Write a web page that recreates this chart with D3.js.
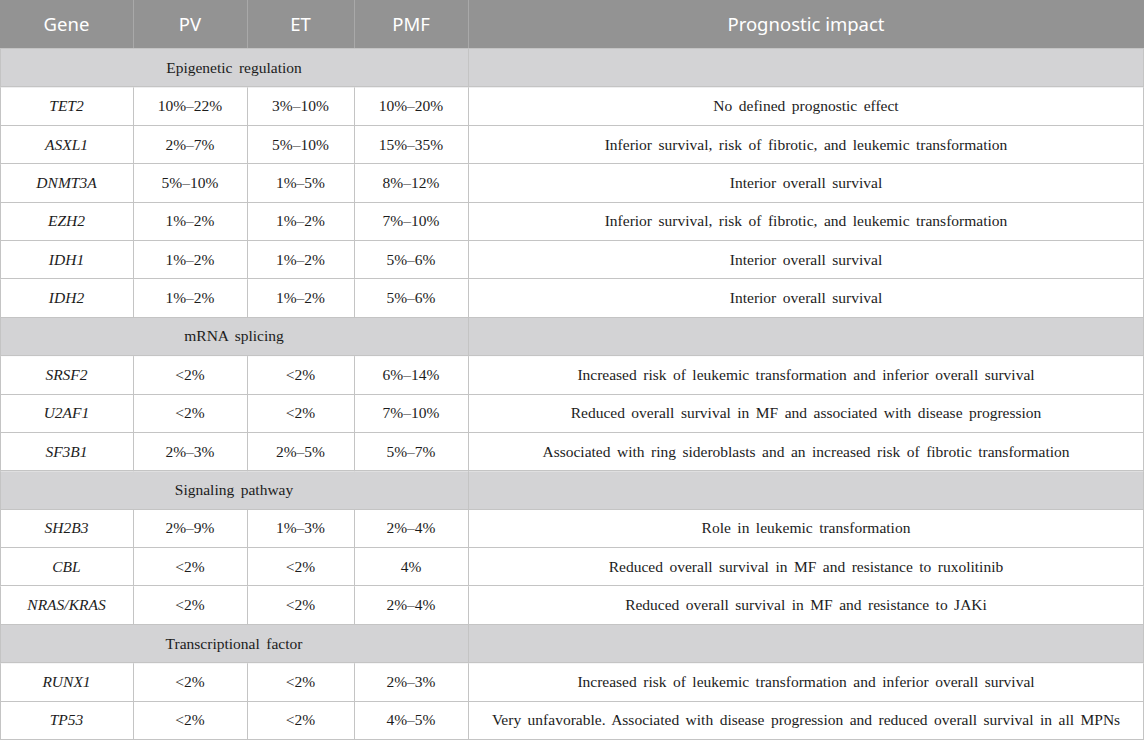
<!DOCTYPE html>
<html>
<head>
<meta charset="utf-8">
<script src="https://cdn.jsdelivr.net/npm/d3@7"></script>
<style>
  body { margin: 0; background: #fff; }
</style>
</head>
<body>
<script>
// table contents
var headers = ["Gene", "PV", "ET", "PMF", "Prognostic impact"];
var groups = ["Epigenetic regulation", "mRNA splicing", "Signaling pathway", "Transcriptional factor"];
var groupSizes = [6, 3, 3, 2];
var genes = ["TET2", "ASXL1", "DNMT3A", "EZH2", "IDH1", "IDH2",
  "SRSF2", "U2AF1", "SF3B1",
  "SH2B3", "CBL", "NRAS/KRAS",
  "RUNX1", "TP53"];
var pv = ["10%–22%", "2%–7%", "5%–10%", "1%–2%", "1%–2%", "1%–2%",
  "<2%", "<2%", "2%–3%",
  "2%–9%", "<2%", "<2%",
  "<2%", "<2%"];
var et = ["3%–10%", "5%–10%", "1%–5%", "1%–2%", "1%–2%", "1%–2%",
  "<2%", "<2%", "2%–5%",
  "1%–3%", "<2%", "<2%",
  "<2%", "<2%"];
var pmf = ["10%–20%", "15%–35%", "8%–12%", "7%–10%", "5%–6%", "5%–6%",
  "6%–14%", "7%–10%", "5%–7%",
  "2%–4%", "4%", "2%–4%",
  "2%–3%", "4%–5%"];
var impact = ["No defined prognostic effect",
  "Inferior survival, risk of fibrotic, and leukemic transformation",
  "Interior overall survival",
  "Inferior survival, risk of fibrotic, and leukemic transformation",
  "Interior overall survival",
  "Interior overall survival",
  "Increased risk of leukemic transformation and inferior overall survival",
  "Reduced overall survival in MF and associated with disease progression",
  "Associated with ring sideroblasts and an increased risk of fibrotic transformation",
  "Role in leukemic transformation",
  "Reduced overall survival in MF and resistance to ruxolitinib",
  "Reduced overall survival in MF and resistance to JAKi",
  "Increased risk of leukemic transformation and inferior overall survival",
  "Very unfavorable. Associated with disease progression and reduced overall survival in all MPNs"];

var W = 1145, H = 741;
var headH = 49, tableBottom = 740;
var colEdges = [0, 133, 247, 354, 468, 1144];

// build row list: group rows interleaved with gene rows
var rows = [];
var gi = 0;
groups.forEach(function (g, k) {
  rows.push({ type: "group", label: g });
  for (var j = 0; j < groupSizes[k]; j++) {
    rows.push({ type: "gene", cells: [genes[gi], pv[gi], et[gi], pmf[gi], impact[gi]] });
    gi++;
  }
});

var y = d3.scaleBand()
  .domain(d3.range(rows.length))
  .range([headH, tableBottom]);

var svg = d3.select("body").append("svg")
  .attr("width", W)
  .attr("height", H);

var serif = "'Liberation Serif', 'Times New Roman', serif";
var sans = "'Noto Sans', 'Open Sans', sans-serif";

// header
svg.append("rect")
  .attr("x", 0).attr("y", 0)
  .attr("width", colEdges[5]).attr("height", headH)
  .attr("fill", "#939393");
for (var c = 1; c < 5; c++) {
  svg.append("line")
    .attr("x1", colEdges[c] + 0.5).attr("x2", colEdges[c] + 0.5)
    .attr("y1", 0).attr("y2", headH)
    .attr("stroke", "#a9a9a9");
}
svg.selectAll("text.head")
  .data(headers)
  .enter().append("text")
  .attr("class", "head")
  .attr("x", function (d, i) { return (colEdges[i] + colEdges[i + 1]) / 2; })
  .attr("y", headH / 2 + 2)
  .attr("text-anchor", "middle")
  .attr("dominant-baseline", "middle")
  .attr("fill", "#fff")
  .attr("font-family", sans)
  .attr("font-size", 18.5)
  .text(function (d) { return d; });

// body rows
var rowG = svg.selectAll("g.row")
  .data(rows)
  .enter().append("g")
  .attr("class", "row")
  .attr("transform", function (d, i) { return "translate(0," + y(i) + ")"; });

rowG.filter(function (d) { return d.type === "group"; })
  .append("rect")
  .attr("x", 0).attr("y", 0)
  .attr("width", colEdges[5]).attr("height", y.bandwidth())
  .attr("fill", "#d3d3d5");

rowG.filter(function (d) { return d.type === "group"; })
  .append("text")
  .attr("x", colEdges[4] / 2)
  .attr("y", y.bandwidth() / 2 + 1)
  .attr("text-anchor", "middle")
  .attr("dominant-baseline", "middle")
  .attr("font-family", serif)
  .attr("font-size", 15.5)
  .attr("word-spacing", 2.6)
  .attr("fill", "#1c1c1c")
  .text(function (d) { return d.label; });

rowG.filter(function (d) { return d.type === "gene"; })
  .selectAll("text")
  .data(function (d) { return d.cells; })
  .enter().append("text")
  .attr("x", function (d, i) { return (colEdges[i] + colEdges[i + 1]) / 2; })
  .attr("y", y.bandwidth() / 2 + 1)
  .attr("text-anchor", "middle")
  .attr("dominant-baseline", "middle")
  .attr("font-family", serif)
  .attr("font-size", 15.5)
  .attr("word-spacing", 2.6)
  .attr("font-style", function (d, i) { return i === 0 ? "italic" : "normal"; })
  .attr("fill", "#1c1c1c")
  .text(function (d) { return d; });

// horizontal grid lines
svg.selectAll("line.h")
  .data(d3.range(rows.length + 1))
  .enter().append("line")
  .attr("class", "h")
  .attr("x1", 0).attr("x2", colEdges[5])
  .attr("y1", function (i) { return Math.round(y(i) || tableBottom) - 0.5; })
  .attr("y2", function (i) { return Math.round(y(i) || tableBottom) - 0.5; })
  .attr("stroke", "#c4c4c4");

// vertical grid lines (skip inner ones on group rows)
rows.forEach(function (r, i) {
  var cols = r.type === "group" ? [0, 4, 5] : [0, 1, 2, 3, 4, 5];
  cols.forEach(function (c) {
    var xv = c === 5 ? colEdges[5] - 0.5 : colEdges[c] + 0.5;
    svg.append("line")
      .attr("x1", xv).attr("x2", xv)
      .attr("y1", y(i)).attr("y2", y(i) + y.bandwidth())
      .attr("stroke", "#c4c4c4");
  });
});
</script>
</body>
</html>
